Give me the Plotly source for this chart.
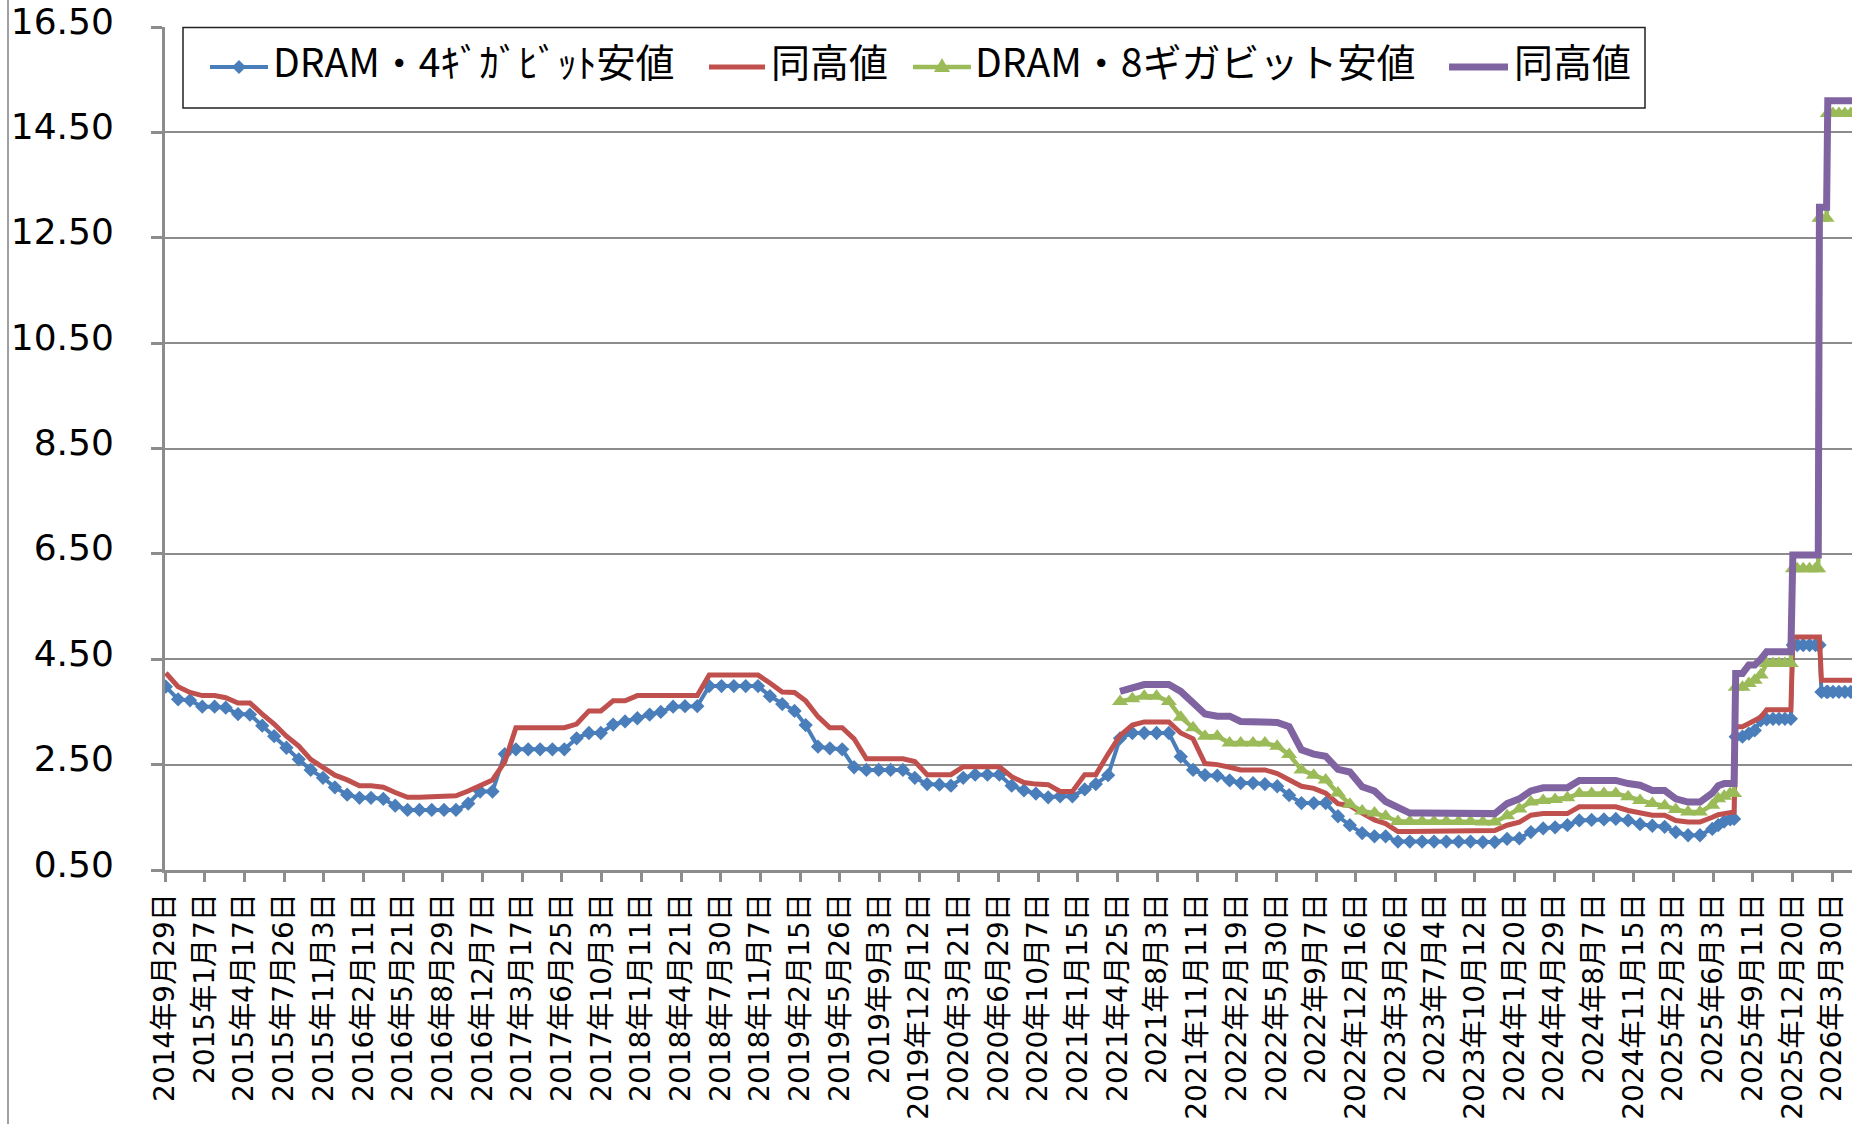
import pandas as pd
import plotly.graph_objects as go

# ---------------- data ----------------
# monthly readings, 1st of each month, 2014-10 .. 2025-05
MONTHS = pd.date_range("2014-10-01", "2025-05-01", freq="MS")

LOW_4G = [
    3.98, 3.74, 3.72,                                                   # 2014 Oct-Dec
    3.60, 3.60, 3.58, 3.46, 3.45, 3.24, 3.04, 2.82, 2.60, 2.40, 2.25, 2.07,  # 2015
    1.93, 1.87, 1.87, 1.85, 1.72, 1.64, 1.64, 1.64, 1.64, 1.64, 1.76, 1.99,  # 2016
    1.99, 2.70, 2.79, 2.79, 2.79, 2.79, 2.79, 3.00, 3.10, 3.10, 3.26, 3.32,  # 2017
    3.38, 3.45, 3.50, 3.60, 3.61, 3.61, 3.99, 3.99, 3.99, 3.99, 3.99, 3.80,  # 2018
    3.65, 3.52, 3.25, 2.84, 2.81, 2.79, 2.45, 2.40, 2.40, 2.40, 2.40, 2.25,  # 2019
    2.13, 2.12, 2.10, 2.25, 2.31, 2.31, 2.31, 2.10, 2.01, 1.95, 1.88, 1.90,  # 2020
    1.90, 2.03, 2.13, 2.30, 3.00, 3.10, 3.10, 3.10, 3.10, 2.65, 2.40, 2.30,  # 2021
    2.29, 2.20, 2.15, 2.15, 2.13, 2.09, 1.92, 1.77, 1.77, 1.77, 1.52, 1.35,  # 2022
    1.20, 1.14, 1.14, 1.04, 1.04, 1.04, 1.04, 1.04, 1.04, 1.04, 1.03, 1.03,  # 2023
    1.09, 1.10, 1.22, 1.29, 1.31, 1.35, 1.44, 1.45, 1.46, 1.47, 1.44, 1.37,  # 2024
    1.34, 1.32, 1.22, 1.16, 1.16,                                       # 2025 Jan-May
]

HIGH_4G = [
    4.24, 3.98, 3.87,
    3.81, 3.81, 3.77, 3.67, 3.67, 3.46, 3.27, 3.04, 2.85, 2.60, 2.46, 2.30,
    2.21, 2.10, 2.10, 2.07, 1.97, 1.88, 1.88, 1.89, 1.90, 1.91, 2.00, 2.10,
    2.21, 2.55, 3.20, 3.20, 3.20, 3.20, 3.20, 3.27, 3.52, 3.52, 3.71, 3.71,
    3.81, 3.81, 3.81, 3.81, 3.81, 3.81, 4.20, 4.20, 4.20, 4.20, 4.20, 4.05,
    3.88, 3.87, 3.71, 3.41, 3.20, 3.20, 2.99, 2.61, 2.61, 2.61, 2.61, 2.56,
    2.31, 2.31, 2.31, 2.46, 2.46, 2.46, 2.46, 2.27, 2.16, 2.13, 2.12, 1.99,
    1.99, 2.31, 2.31, 2.70, 3.05, 3.25, 3.31, 3.31, 3.31, 3.10, 2.99, 2.52,
    2.50, 2.45, 2.40, 2.40, 2.40, 2.33, 2.20, 2.09, 2.05, 1.96, 1.76, 1.72,
    1.58, 1.45, 1.38, 1.23, 1.23, 1.23, 1.23, 1.23, 1.23, 1.23, 1.25, 1.25,
    1.35, 1.41, 1.54, 1.57, 1.57, 1.57, 1.70, 1.70, 1.70, 1.70, 1.63, 1.58,
    1.54, 1.54, 1.44, 1.41, 1.41,
]

# 8 Gbit series start in May 2021
START_8G = "2021-05-01"
LOW_8G = [
    3.70, 3.75, 3.80, 3.80, 3.70, 3.40, 3.20, 3.04,                     # 2021 May-Dec
    3.04, 2.91, 2.91, 2.91, 2.91, 2.85, 2.69, 2.40, 2.30, 2.21, 1.96, 1.75,  # 2022
    1.62, 1.58, 1.52, 1.42, 1.42, 1.42, 1.42, 1.42, 1.42, 1.42, 1.41, 1.41,  # 2023
    1.53, 1.66, 1.79, 1.82, 1.84, 1.87, 1.95, 1.95, 1.95, 1.95, 1.89, 1.82,  # 2024
    1.76, 1.72, 1.65, 1.60, 1.60,                                       # 2025 Jan-May
]
HIGH_8G = [
    3.89, 3.95, 4.02, 4.02, 4.02, 3.89, 3.68, 3.46,
    3.42, 3.42, 3.32, 3.32, 3.32, 3.30, 3.22, 2.78, 2.70, 2.66, 2.41, 2.36,
    2.08, 2.00, 1.80, 1.68, 1.58, 1.58, 1.58, 1.58, 1.58, 1.58, 1.57, 1.57,
    1.76, 1.85, 2.00, 2.06, 2.06, 2.06, 2.20, 2.20, 2.20, 2.20, 2.14, 2.11,
    2.01, 2.01, 1.85, 1.79, 1.79,
]

# finer readings for the steep part, 2025-06 onwards
TAIL_DATES = [
    "2025-06-01", "2025-06-16", "2025-07-01", "2025-07-16", "2025-07-26",
    "2025-07-30", "2025-08-16", "2025-09-01", "2025-09-16", "2025-10-01",
    "2025-10-16", "2025-11-01", "2025-11-16", "2025-12-01", "2025-12-16",
    "2025-12-21", "2026-01-01", "2026-01-16", "2026-02-01", "2026-02-16",
    "2026-02-23", "2026-02-26", "2026-03-03", "2026-03-16", "2026-03-19",
    "2026-04-01", "2026-04-16", "2026-05-01", "2026-05-16", "2026-06-01",
]
TAIL_LOW_4G = [1.28, 1.35, 1.42, 1.46, 1.47, 3.03, 3.03, 3.09, 3.15, 3.34,
               3.36, 3.37, 3.37, 3.37, 3.37, 4.77, 4.77, 4.77, 4.77, 4.77,
               4.77, 4.77, 3.88, 3.88, 3.88, 3.88, 3.88, 3.88, 3.88, 3.88]
TAIL_HIGH_4G = [1.50, 1.55, 1.57, 1.60, 1.60, 3.22, 3.22, 3.28, 3.34, 3.40,
                3.54, 3.54, 3.54, 3.54, 3.54, 4.92, 4.92, 4.92, 4.92, 4.92,
                4.92, 4.92, 4.10, 4.10, 4.10, 4.10, 4.10, 4.10, 4.10, 4.10]
TAIL_LOW_8G = [1.73, 1.85, 1.90, 1.95, 1.95, 3.97, 3.97, 4.04, 4.10, 4.20,
               4.42, 4.42, 4.42, 4.42, 4.42, 6.22, 6.22, 6.22, 6.22, 6.22,
               6.22, 12.87, 12.87, 12.87, 14.86, 14.86, 14.86, 14.86, 14.86, 14.86]
TAIL_HIGH_8G = [1.96, 2.10, 2.14, 2.14, 2.14, 4.23, 4.23, 4.39, 4.39, 4.50,
                4.64, 4.64, 4.64, 4.64, 4.64, 6.48, 6.48, 6.48, 6.48, 6.48,
                6.48, 13.08, 13.08, 13.08, 15.10, 15.10, 15.10, 15.10, 15.10, 15.10]

NAMES = ["DRAM・4ｷﾞｶﾞﾋﾞｯﾄ安値", "同高値", "DRAM・8ギガビット安値", "同高値"]
COLORS = ["#4a7ebb", "#c0504d", "#9bbb59", "#8064a2"]

Y_TICKS = [0.5, 2.5, 4.5, 6.5, 8.5, 10.5, 12.5, 14.5, 16.5]

# ---------------- assemble ----------------
tail = pd.to_datetime(TAIL_DATES)
x4 = list(MONTHS) + list(tail)
m8 = MONTHS[MONTHS >= pd.Timestamp(START_8G)]
x8 = list(m8) + list(tail)

series = [
    (x4, LOW_4G + TAIL_LOW_4G),
    (x4, HIGH_4G + TAIL_HIGH_4G),
    (x8, LOW_8G + TAIL_LOW_8G),
    (x8, HIGH_8G + TAIL_HIGH_8G),
]

W, H = 1852, 1124
ML, MR, MT, MB = 165, 0, 27, 254
PW, PH = W - ML - MR, H - MT - MB


def px(x):
    return (x - ML) / PW


def py(y):
    return (H - MB - y) / PH


fig = go.Figure()
styles = [
    dict(line=dict(color=COLORS[0], width=4), mode="lines+markers",
         marker=dict(symbol="diamond", size=11, color=COLORS[0])),
    dict(line=dict(color=COLORS[1], width=5), mode="lines"),
    dict(line=dict(color=COLORS[2], width=4.5), mode="lines+markers",
         marker=dict(symbol="triangle-up", size=14, color=COLORS[2])),
    dict(line=dict(color=COLORS[3], width=7), mode="lines"),
]
for (xs, ys), name, st in zip(series, NAMES, styles):
    fig.add_trace(go.Scatter(x=xs, y=ys, name=name, showlegend=False, **st))

GRID = "#8c8c8c"
fig.update_layout(
    width=W, height=H,
    margin=dict(l=ML, r=MR, t=MT, b=MB, pad=0),
    paper_bgcolor="white", plot_bgcolor="white",
    showlegend=False,
)
fig.update_xaxes(
    type="date",
    range=["2014-09-29", "2026-05-19"],
    tick0="2014-09-29", dtick=100 * 86400000,
    tickformat="%Y年%-m月%-d日", tickangle=-90,
    ticks="outside", ticklen=9, tickwidth=3, tickcolor=GRID,
    showline=True, linecolor=GRID, linewidth=3,
    showgrid=False, zeroline=False,
    tickfont=dict(family="DejaVu Sans, Noto Sans CJK JP", size=28, color="black"),
)
fig.update_yaxes(
    range=[0.5, 16.5],
    tickvals=Y_TICKS, tickformat=".2f",
    ticks="outside", ticklen=11, tickwidth=3, tickcolor=GRID,
    showline=True, linecolor=GRID, linewidth=3,
    showgrid=True, gridcolor=GRID, gridwidth=2, zeroline=False,
    tickfont=dict(family="DejaVu Sans", size=36, color="black"),
    ticklabelstandoff=30, ticklabelshift=-6,
)

shapes = []
# outer chart border on the left
shapes.append(dict(type="line", xref="paper", yref="paper",
                   x0=px(8), x1=px(8), y0=py(0), y1=py(H),
                   line=dict(color="#a0a0a0", width=2), layer="above"))
# legend box
shapes.append(dict(type="rect", xref="paper", yref="paper",
                   x0=px(183), x1=px(1645), y0=py(108), y1=py(27.5),
                   fillcolor="white", line=dict(color="#222222", width=1.5),
                   layer="above"))
LEG_Y = 67
samples = [(210, 268, 4), (709, 765, 5), (913, 971, 4.5), (1449, 1508, 7)]
for (a, b, w), c in zip(samples, COLORS):
    shapes.append(dict(type="line", xref="paper", yref="paper",
                       x0=px(a), x1=px(b), y0=py(LEG_Y), y1=py(LEG_Y),
                       line=dict(color=c, width=w), layer="above"))
# legend markers
shapes.append(dict(type="path", xref="paper", yref="paper",
                   xsizemode="pixel", ysizemode="pixel",
                   xanchor=px(239), yanchor=py(LEG_Y),
                   path="M-7,0 L0,7 L7,0 L0,-7 Z",
                   fillcolor=COLORS[0], line=dict(width=0), layer="above"))
shapes.append(dict(type="path", xref="paper", yref="paper",
                   xsizemode="pixel", ysizemode="pixel",
                   xanchor=px(942), yanchor=py(LEG_Y),
                   path="M-8,-5 L8,-5 L0,9 Z",
                   fillcolor=COLORS[2], line=dict(width=0), layer="above"))

annotations = []
for x0, txt in zip([271, 769, 973, 1512], NAMES):
    annotations.append(dict(xref="paper", yref="paper", x=px(x0), y=py(60),
                            xanchor="left", yanchor="middle", showarrow=False,
                            text=txt,
                            font=dict(family="Noto Sans CJK JP", size=39,
                                      color="black")))

fig.update_layout(shapes=shapes, annotations=annotations)
fig.write_html("out.html",
               config={"displayModeBar": False},
               post_script="document.body.style.margin='0';"
                           "document.body.style.overflow='hidden';")
